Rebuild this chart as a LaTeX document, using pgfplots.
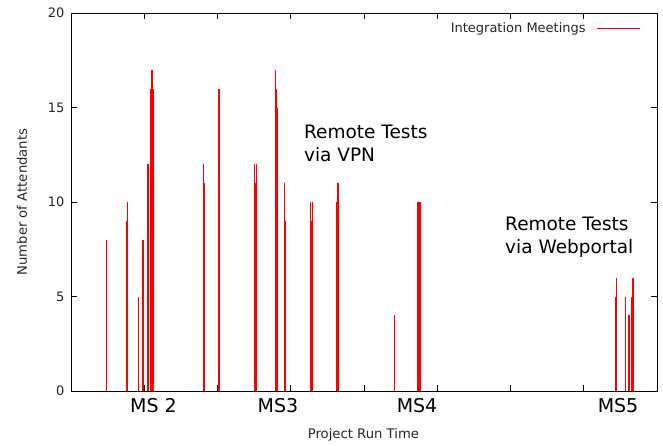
\documentclass[border=0pt]{standalone}
\usepackage{pgfplots}
\pgfplotsset{compat=1.18}
\usepackage{fontspec}
\setmainfont{DejaVu Sans}

\begin{document}
\begin{tikzpicture}
\useasboundingbox (-71pt,-54pt) rectangle (592pt,391pt);
\begin{axis}[
    scale only axis,
    width=586pt, height=378pt,
    at={(0,0)}, anchor=south west,
    xmin=0, xmax=8,
    ymin=0, ymax=20,
    xtick={1,2,3,4,5,6,7},
    xticklabels={},
    ytick={0,5,10,15,20},
    tick align=inside,
    major tick length=6pt,
    axis line style={line width=0.9pt},
    every tick/.style={black, line width=0.8pt},
    /pgf/number format/assume math mode=true,
    tick label style={font=\fontsize{13}{15}\selectfont, text=black!85},
    yticklabel style={xshift=-3pt},
    extra x ticks={1.126,2.826,4.724,7.468},
    extra x tick labels={MS 2,MS3,MS4,MS5},
    extra x tick style={major tick length=0pt,
        tick label style={font=\fontsize{19}{21}\selectfont, text=black, yshift=-4pt}},
    xlabel={Project Run Time},
    ylabel={Number of Attendants},
    label style={font=\fontsize{13.2}{15}\selectfont, text=black!85},
    xlabel style={at={(axis description cs:0.499,-0.1164)}, anchor=center},
    ylabel style={at={(axis description cs:-0.0836,0.5)}, anchor=center},
    legend style={draw=none, fill=none, at={(axis description cs:0.9727,0.96)},
        anchor=east, font=\fontsize{13}{15}\selectfont, text=black!85,
        inner sep=0pt, column sep=0pt},
    legend cell align=right,
    legend plot pos=right,
    legend image code/.code={\path (0pt,0pt); \draw[red, line width=1pt] (9pt,0pt) -- (52pt,0pt);},
]
\addplot[ycomb, red, line width=1.2pt, mark=none] coordinates {
    (0.485,8)
    (0.755,9) (0.771,10)
    (0.919,5)
    (0.979,8) (0.993,8)
    (1.044,12) (1.058,12)
    (1.085,16) (1.106,17) (1.119,16)
    (1.806,12) (1.816,11)
    (2.020,16)
    (2.502,12) (2.519,11) (2.535,12)
    (2.789,17) (2.802,16) (2.816,15)
    (2.912,11) (2.928,9)
    (3.267,10) (3.283,9) (3.300,10)
    (3.627,10) (3.645,11)
    (4.414,4)
    (4.737,10) (4.753,10) (4.770,10)
    (7.433,5) (7.447,6)
    (7.573,5)
    (7.608,4) (7.625,4)
    (7.649,5) (7.665,6) (7.682,6)
};
\addlegendentry{Integration Meetings}
\node[anchor=north west, align=left, font=\fontsize{18.5}{23}\selectfont, inner sep=0pt]
    at (axis cs:3.18,14.07) {Remote Tests\\via VPN};
\node[anchor=north west, align=left, font=\fontsize{18.5}{23}\selectfont, inner sep=0pt]
    at (axis cs:5.925,9.2) {Remote Tests\\via Webportal};
\end{axis}
\end{tikzpicture}
\end{document}
